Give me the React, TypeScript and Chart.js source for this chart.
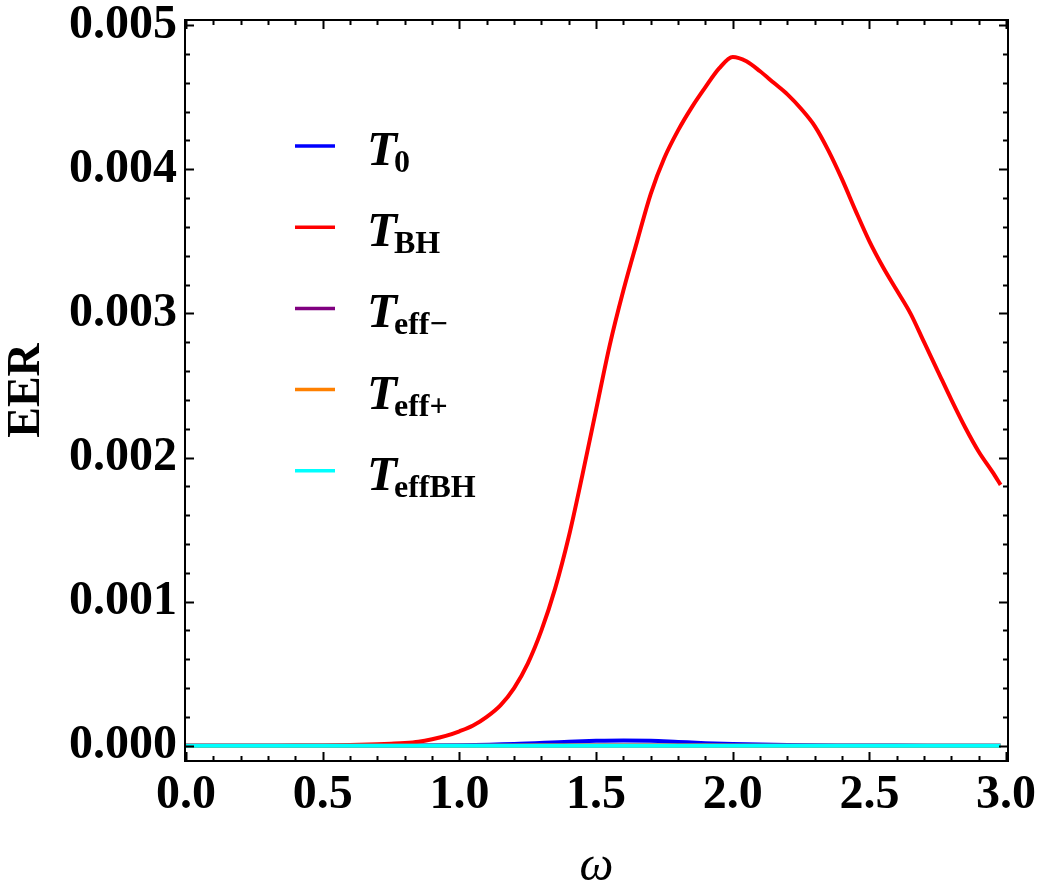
import React, { useEffect, useRef } from "react";
import { Chart, registerables } from "chart.js";

Chart.register(...registerables);

// ω samples and EER values for T_BH
const omegaBH = [
  0, 0.1, 0.2, 0.3, 0.4, 0.5, 0.6, 0.7, 0.75, 0.8, 0.85, 0.9, 0.95, 1.0,
  1.05, 1.1, 1.15, 1.2, 1.25, 1.3, 1.35, 1.4, 1.45, 1.5, 1.55, 1.6, 1.65,
  1.7, 1.75, 1.8, 1.85, 1.9, 1.95, 2.0, 2.05, 2.1, 2.15, 2.2, 2.25, 2.3,
  2.35, 2.4, 2.45, 2.5, 2.55, 2.6, 2.65, 2.7, 2.75, 2.8, 2.85, 2.9, 2.95, 2.98,
];
const eerBH = [
  0, 0, 0, 0.0000003, 0.0000008, 0.000002, 0.000005, 0.00001, 0.000014,
  0.000019, 0.000028, 0.000045, 0.000068, 0.0001, 0.00014, 0.0002, 0.00028,
  0.0004, 0.00057, 0.0008, 0.00109, 0.00145, 0.00188, 0.00233, 0.00278,
  0.00316, 0.0035, 0.00383, 0.00408, 0.00427, 0.00443, 0.00457, 0.0047,
  0.00478, 0.00475, 0.00468, 0.0046, 0.00452, 0.00442, 0.0043, 0.00413,
  0.00393, 0.00371, 0.0035, 0.00332, 0.00316, 0.003, 0.0028, 0.0026,
  0.0024, 0.00221, 0.00204, 0.0019, 0.00181,
];

// ω samples shared by the small-amplitude series
const omegaLow = [
  0, 0.2, 0.4, 0.6, 0.8, 1.0, 1.2, 1.4, 1.5, 1.6, 1.7, 1.8, 1.9, 2.0, 2.2,
  2.4, 2.6, 2.8, 2.98,
];
const eerT0 = [
  0, 0, 0, 0.0000005, 0.0000015, 0.000004, 0.000012, 0.000028, 0.000034,
  0.000037, 0.000034, 0.000026, 0.000018, 0.000012, 0.000005, 0.000002,
  0.000001, 0.0000005, 0.0000003,
];
const eerEffMinus = [
  0, 0, 0, 0, 0.0000001, 0.0000003, 0.0000008, 0.0000015, 0.0000018,
  0.000002, 0.0000019, 0.0000016, 0.0000012, 0.0000009, 0.0000005,
  0.0000003, 0.0000002, 0.0000001, 0.0000001,
];
const eerEffPlus = [
  0, 0, 0, 0, 0.0000001, 0.0000002, 0.0000005, 0.000001, 0.0000012,
  0.0000013, 0.0000012, 0.000001, 0.0000008, 0.0000006, 0.0000003,
  0.0000002, 0.0000001, 0.0000001, 0,
];
const eerEffBH = [
  0, 0, 0, 0, 0, 0.0000001, 0.0000002, 0.0000004, 0.0000005, 0.0000006,
  0.0000006, 0.0000006, 0.0000005, 0.0000005, 0.0000004, 0.0000003,
  0.0000002, 0.0000002, 0.0000001,
];

const seriesSubscripts = ["0", "BH", "eff\u2212", "eff+", "effBH"];
const seriesColors = ["#0000ff", "#ff0000", "#800080", "#ff8000", "#00ffff"];
const xTickLabels = ["0.0", "0.5", "1.0", "1.5", "2.0", "2.5", "3.0"];

const SERIF = "'Liberation Serif', 'Times New Roman', serif";

const pairs = (xs: number[], ys: number[]) =>
  xs.map((x, i) => ({ x, y: ys[i] }));

// Keep the plot frame fixed: no extra room reserved for overflowing labels
const clearPadding = (s: any) => {
  s.paddingTop = 0;
  s.paddingBottom = 0;
  s.paddingLeft = 0;
  s.paddingRight = 0;
};

// Closed frame with inward-pointing major/minor ticks on all four sides
const frameTicks = {
  id: "frameTicks",
  afterDatasetsDraw(chart: any) {
    const { ctx, chartArea, scales } = chart;
    const { left, right, top, bottom } = chartArea;
    const xs = scales.x;
    const ys = scales.y;
    ctx.save();
    ctx.strokeStyle = "#000";
    ctx.lineWidth = 2;
    ctx.beginPath();
    for (let i = 0; i <= 30; i++) {
      const px = Math.round(xs.getPixelForValue(i / 10)) + 0.5;
      const len = i % 5 === 0 ? 9 : 5;
      ctx.moveTo(px, bottom);
      ctx.lineTo(px, bottom - len);
      ctx.moveTo(px, top);
      ctx.lineTo(px, top + len);
    }
    for (let i = 0; i <= 25; i++) {
      const py = Math.round(ys.getPixelForValue(i * 0.0002)) + 0.5;
      const len = i % 5 === 0 ? 9 : 5;
      ctx.moveTo(left, py);
      ctx.lineTo(left + len, py);
      ctx.moveTo(right, py);
      ctx.lineTo(right - len, py);
    }
    ctx.stroke();
    ctx.strokeRect(left, top, right - left, bottom - top);
    ctx.restore();
  },
};

// Legend with italic T and upright bold subscripts
const subscriptLegend = {
  id: "subscriptLegend",
  afterDraw(chart: any) {
    const { ctx, chartArea } = chart;
    const x0 = chartArea.left + 110;
    const y0 = chartArea.top + 126;
    const rowGap = 81.2;
    chart.data.datasets.forEach((ds: any, i: number) => {
      const y = y0 + i * rowGap;
      ctx.save();
      ctx.strokeStyle = ds.borderColor;
      ctx.lineWidth = 3.5;
      ctx.beginPath();
      ctx.moveTo(x0, y);
      ctx.lineTo(x0 + 40, y);
      ctx.stroke();
      ctx.fillStyle = "#000";
      ctx.textBaseline = "alphabetic";
      ctx.textAlign = "left";
      const tx = x0 + 72;
      ctx.font = `italic bold 49px ${SERIF}`;
      ctx.fillText("T", tx, y + 19);
      const w = ctx.measureText("T").width;
      ctx.font = `bold 32px ${SERIF}`;
      ctx.fillText(seriesSubscripts[i], tx + w - 3, y + 26);
      ctx.restore();
    });
  },
};

export default function App() {
  const canvasRef = useRef<HTMLCanvasElement | null>(null);

  useEffect(() => {
    if (!canvasRef.current) return;
    const seriesData = [
      pairs(omegaLow, eerT0),
      pairs(omegaBH, eerBH),
      pairs(omegaLow, eerEffMinus),
      pairs(omegaLow, eerEffPlus),
      pairs(omegaLow, eerEffBH),
    ];
    const drawOrder = [5, 4, 3, 2, 1];
    const chart = new Chart(canvasRef.current, {
      type: "line",
      data: {
        datasets: seriesData.map((d, i) => ({
          label: "T" + seriesSubscripts[i],
          data: d,
          borderColor: seriesColors[i],
          backgroundColor: seriesColors[i],
          borderWidth: 4,
          pointRadius: 0,
          fill: false,
          cubicInterpolationMode: "monotone" as const,
          order: drawOrder[i],
        })),
      },
      options: {
        responsive: false,
        animation: false,
        layout: { padding: { top: 20, right: 34, left: 0, bottom: 0 } },
        plugins: {
          legend: { display: false },
          tooltip: { enabled: false },
        },
        scales: {
          x: {
            type: "linear",
            min: -0.004,
            max: 3.007,
            grid: { display: false, drawTicks: false },
            border: { display: false },
            afterFit: (s: any) => {
              s.height = 129;
              clearPadding(s);
            },
            ticks: {
              stepSize: 0.5,
              includeBounds: false,
              autoSkip: false,
              maxRotation: 0,
              padding: 6,
              color: "#000",
              font: { family: SERIF, size: 48, weight: "bold" },
              callback: (v: any) => {
                const idx = Math.round(Number(v) / 0.5);
                return xTickLabels[idx] ?? Number(v).toFixed(1);
              },
            },
            title: {
              display: true,
              text: "\u03c9",
              color: "#000",
              font: { family: SERIF, size: 48, style: "italic" },
              padding: { top: 0, bottom: -6 },
            },
          },
          y: {
            type: "linear",
            min: -0.000106,
            max: 0.005036,
            grid: { display: false, drawTicks: false },
            border: { display: false },
            afterFit: (s: any) => {
              s.width = 185;
              clearPadding(s);
            },
            ticks: {
              stepSize: 0.001,
              includeBounds: false,
              padding: 8,
              color: "#000",
              font: { family: SERIF, size: 48, weight: "bold" },
              callback: (v: any) => Math.abs(Number(v)).toFixed(3),
            },
            title: {
              display: true,
              text: "EER",
              color: "#000",
              font: { family: SERIF, size: 46, weight: "bold" },
              padding: { top: 0, bottom: 0 },
            },
          },
        },
      },
      plugins: [frameTicks, subscriptLegend],
    });
    return () => chart.destroy();
  }, []);

  return (
    <div
      style={{
        position: "absolute",
        left: 0,
        top: 0,
        width: 1042,
        height: 890,
        background: "#fff",
      }}
    >
      <canvas
        ref={canvasRef}
        width={1042}
        height={890}
        style={{ display: "block", width: 1042, height: 890 }}
      />
    </div>
  );
}
